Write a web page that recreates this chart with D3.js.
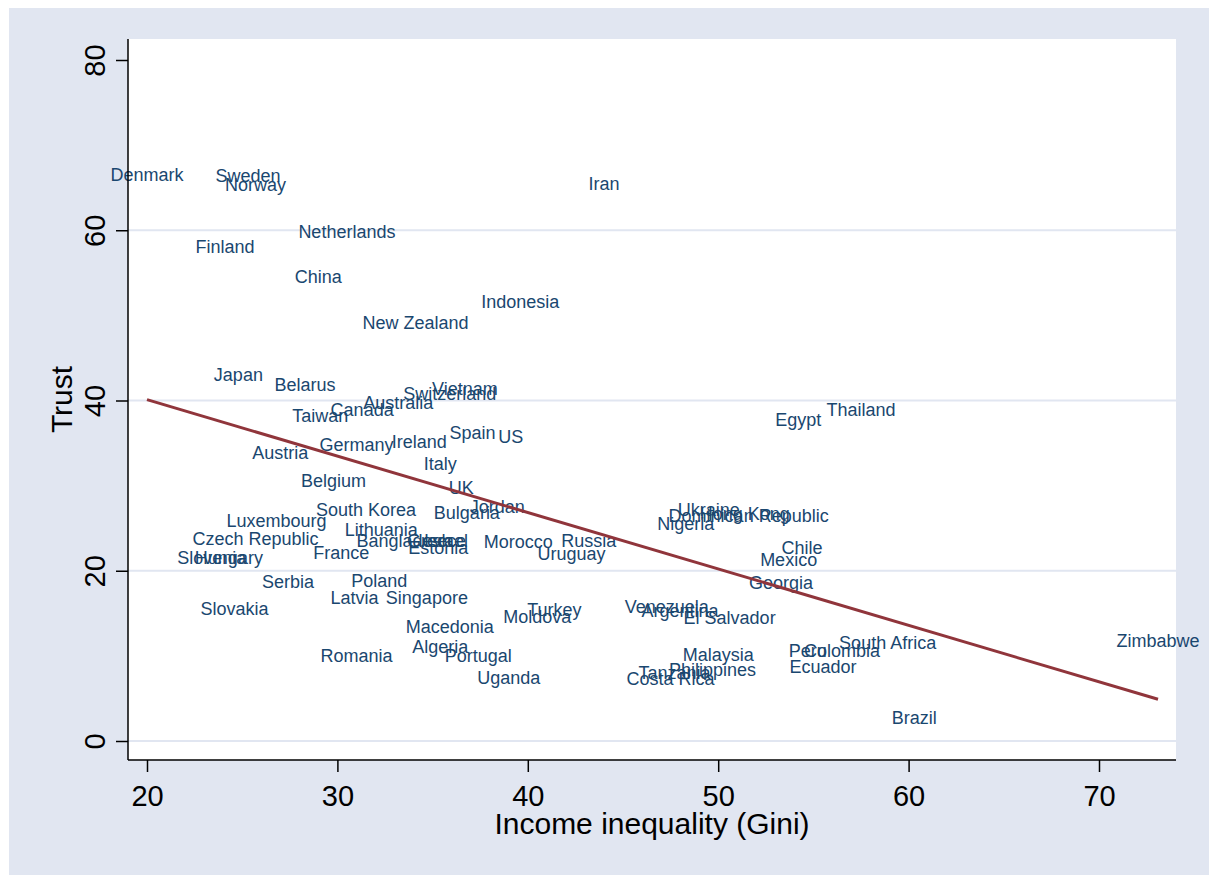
<!DOCTYPE html>
<html>
  <head>
    <style>
      body {
        margin: 0;
        background: #fff;
        font-family: "Liberation Sans", Arial, sans-serif;
      }
      .lbl {
        fill: #1a476f;
        font-size: 18px;
      }
      .fit-line {
        fill: none;
        stroke: #90353b;
        stroke-width: 3px;
      }
      .grid line {
        stroke: #e1e6f1;
        stroke-width: 2px;
      }
      .axis path, .axis line {
        stroke: #000;
        stroke-width: 1.5px;
      }
      .axis text {
        font-size: 29px;
        fill: #000;
      }
    </style>
  </head>
  <body>
    <script src="https://d3js.org/d3.v7.min.js"></script>
    <script>
      // countries, Gini index and trust (%)
      var countries = ["Denmark", "Sweden", "Norway", "Iran", "Netherlands", "Finland", "China", "Indonesia",
        "New Zealand", "Japan", "Belarus", "Vietnam", "Switzerland", "Australia", "Canada", "Taiwan",
        "Egypt", "Thailand", "Spain", "US", "Ireland", "Germany", "Austria", "Italy",
        "Belgium", "UK", "Jordan", "Bulgaria", "South Korea", "Luxembourg", "Lithuania", "Czech Republic",
        "Bangladesh", "Greece", "Israel", "Estonia", "Morocco", "Russia", "Uruguay", "France",
        "Slovenia", "Hungary", "Serbia", "Poland", "Latvia", "Singapore", "Slovakia", "Turkey",
        "Moldova", "Macedonia", "Algeria", "Portugal", "Romania", "Uganda", "Venezuela", "Argentina",
        "El Salvador", "Malaysia", "Tanzania", "Philippines", "Costa Rica", "Ukraine", "Hong Kong", "Dominican Republic",
        "Nigeria", "Chile", "Mexico", "Georgia", "South Africa", "Peru", "Colombia", "Ecuador",
        "Brazil", "Zimbabwe"];
      var gini = [20.0, 25.3, 25.7, 44.0, 30.5, 24.1, 29.0, 39.6,
        34.1, 24.8, 28.3, 36.7, 35.9, 33.2, 31.3, 29.1,
        54.2, 57.5, 37.1, 39.1, 34.3, 31.0, 27.0, 35.4,
        29.8, 36.5, 38.4, 36.8, 31.5, 26.8, 32.3, 25.7,
        33.5, 35.2, 35.7, 35.3, 39.5, 43.2, 42.3, 30.2,
        23.4, 24.3, 27.4, 32.2, 30.9, 34.7, 24.6, 41.4,
        40.5, 35.9, 35.4, 37.4, 31.0, 39.0, 47.3, 48.0,
        50.6, 50.0, 47.7, 49.7, 47.5, 49.5, 51.4, 51.6,
        48.3, 54.4, 53.7, 53.3, 58.9, 54.7, 56.5, 55.5,
        60.3, 73.1];
      var trust = [66.6, 66.4, 65.4, 65.5, 59.9, 58.1, 54.6, 51.6,
        49.2, 43.1, 41.9, 41.4, 40.8, 39.8, 38.9, 38.2,
        37.8, 38.9, 36.2, 35.8, 35.2, 34.8, 33.9, 32.6,
        30.6, 29.8, 27.6, 26.8, 27.2, 25.9, 24.8, 23.8,
        23.5, 23.6, 23.6, 22.7, 23.4, 23.6, 22.0, 22.1,
        21.6, 21.6, 18.7, 18.8, 16.8, 16.8, 15.6, 15.5,
        14.6, 13.4, 11.1, 10.0, 10.0, 7.5, 15.8, 15.3,
        14.5, 10.2, 8.1, 8.4, 7.3, 27.2, 26.7, 26.5,
        25.5, 22.7, 21.3, 18.6, 11.6, 10.6, 10.6, 8.8,
        2.7, 11.8];
      // linear fit end points
      var fitX = [20, 73.1];
      var fitY = [40.1, 4.9];
      var xTicks = [20, 30, 40, 50, 60, 70];
      var yTicks = [0, 20, 40, 60, 80];
      var gridTicks = [0, 20, 40, 60];

      var W = 1209, H = 875;
      var plot = {left: 128, top: 39, right: 1176, bottom: 760};

      var svg = d3.select("body").append("svg")
        .attr("width", W)
        .attr("height", H);

      // graph region + plot region
      svg.append("rect").attr("x", 9).attr("y", 8)
        .attr("width", W - 9).attr("height", H - 8).attr("fill", "#e1e6f1");
      svg.append("rect").attr("x", plot.left).attr("y", plot.top)
        .attr("width", plot.right - plot.left).attr("height", plot.bottom - plot.top)
        .attr("fill", "#fff");

      var x = d3.scaleLinear().domain([20, 70]).range([147, 1099]);
      var y = d3.scaleLinear().domain([0, 80]).range([741, 60]);

      svg.append("g").attr("class", "grid")
        .selectAll("line").data(gridTicks).enter().append("line")
        .attr("x1", plot.left).attr("x2", plot.right)
        .attr("y1", d => y(d)).attr("y2", d => y(d));

      var pts = countries.map((c, i) => ({name: c, g: gini[i], t: trust[i]}));

      svg.append("g").selectAll("text")
        .data(pts).enter().append("text")
        .attr("class", "lbl")
        .attr("x", d => x(d.g))
        .attr("y", d => y(d.t))
        .attr("dy", "0.36em")
        .attr("text-anchor", "middle")
        .text(d => d.name);

      var line = d3.line().x(d => x(d[0])).y(d => y(d[1]));
      svg.append("path")
        .attr("class", "fit-line")
        .datum(fitX.map((v, i) => [v, fitY[i]]))
        .attr("d", line);

      // axes
      var xAxis = d3.axisBottom(x).tickValues(xTicks).tickSize(12).tickSizeOuter(0).tickPadding(6);
      var gx = svg.append("g").attr("class", "axis")
        .attr("transform", "translate(0," + plot.bottom + ")")
        .call(xAxis);
      gx.select(".domain").attr("d", "M" + plot.left + ",0H" + plot.right);
      gx.selectAll("text").attr("dy", null).attr("y", 46);

      var yAxis = d3.axisLeft(y).tickValues(yTicks).tickSize(12).tickSizeOuter(0);
      var gy = svg.append("g").attr("class", "axis")
        .attr("transform", "translate(" + plot.left + ",0)")
        .call(yAxis);
      gy.select(".domain").attr("d", "M0," + plot.top + "V" + plot.bottom);
      gy.selectAll("text")
        .attr("x", null).attr("dy", null)
        .attr("text-anchor", "middle")
        .attr("transform", "translate(-23,0) rotate(-90)");

      svg.append("text")
        .attr("x", (plot.left + plot.right) / 2)
        .attr("y", 834)
        .attr("text-anchor", "middle")
        .style("font-size", "30px")
        .text("Income inequality (Gini)");

      svg.append("text")
        .attr("transform", "translate(72," + (plot.top + plot.bottom) / 2 + ") rotate(-90)")
        .attr("text-anchor", "middle")
        .style("font-size", "30px")
        .text("Trust");
    </script>
  </body>
</html>
